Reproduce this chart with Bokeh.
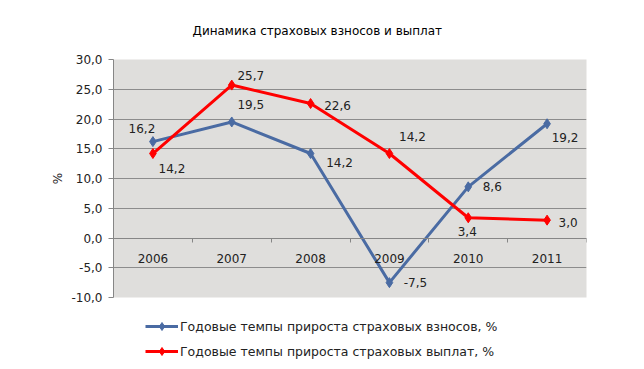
from bokeh.plotting import figure
from bokeh.layouts import column
from bokeh.models import FixedTicker, Legend, LegendItem, ColumnDataSource, Range1d
from bokeh.core.properties import value
from bokeh.embed import file_html
from bokeh.resources import INLINE

# ---- data ----
years = ["2006", "2007", "2008", "2009", "2010", "2011"]
premiums = [16.2, 19.5, 14.2, -7.5, 8.6, 19.2]
payouts = [14.2, 25.7, 22.6, 14.2, 3.4, 3.0]
y_ticks = [-10, -5, 0, 5, 10, 15, 20, 25, 30]
title_text = "Динамика страховых взносов и выплат"
series_names = ["Годовые темпы прироста страховых взносов, %",
                "Годовые темпы прироста страховых выплат, %"]
y_label = "%"

# label placement (pixels) for the data labels
blue_dx = [-11, 19, 29, 26, 24, 18]
blue_dy = [-13, -17, 9, 0, 0, 14]
red_dx = [19, 19, 27, 23, -1, 21]
red_dy = [15, -10, 2, -17, 14, 2]

BLUE = "#4a6ba3"
RED = "#ff0000"
GRID = "#8c8c8c"
AXIS = "#868686"
TXT = "#222222"
FONT = "DejaVu Sans"


def fmt(v):
    return f"{v:.1f}".replace(".", ",")


xs = [i + 0.5 for i in range(len(years))]

p = figure(width=644, height=316,
           x_range=Range1d(0, len(years)), y_range=Range1d(-10, 30),
           output_backend="svg", toolbar_location=None,
           min_border_left=113, min_border_right=58,
           min_border_top=59, min_border_bottom=19)
p.background_fill_color = "#dfdedc"
p.border_fill_color = "white"
p.outline_line_color = None

p.title.text = title_text
p.title.align = "left"
p.title.offset = 79
p.title.standoff = 43
p.title.text_font = FONT
p.title.text_font_size = "12px"
p.title.text_font_style = "normal"
p.title.text_color = "black"

# grid
p.xgrid.visible = False
p.ygrid.ticker = FixedTicker(ticks=y_ticks)
p.ygrid.grid_line_color = GRID
p.ygrid.grid_line_width = 1

# y axis
ya = p.yaxis[0]
ya.ticker = FixedTicker(ticks=y_ticks)
ya.major_label_overrides = {t: fmt(t) for t in y_ticks}
ya.major_label_text_font = FONT
ya.major_label_text_font_size = "12px"
ya.major_label_text_color = TXT
ya.major_tick_out = 5
ya.major_tick_in = 0
ya.minor_tick_line_color = None
ya.axis_line_color = AXIS
ya.major_tick_line_color = AXIS
ya.major_label_standoff = 6
ya.axis_label = y_label
ya.axis_label_text_font = FONT
ya.axis_label_text_font_size = "12px"
ya.axis_label_text_font_style = "normal"
ya.axis_label_text_color = TXT
ya.axis_label_standoff = 3

# x axis (crossing at zero)
xa = p.xaxis[0]
xa.ticker = FixedTicker(ticks=xs, minor_ticks=list(range(0, len(years) + 1)))
xa.major_label_overrides = {x: y for x, y in zip(xs, years)}
xa.fixed_location = 0
xa.major_tick_line_color = None
xa.major_tick_out = 0
xa.major_tick_in = 0
xa.minor_tick_out = 4
xa.minor_tick_in = 0
xa.minor_tick_line_color = AXIS
xa.axis_line_color = AXIS
xa.major_label_standoff = 12
xa.major_label_text_font = FONT
xa.major_label_text_font_size = "12px"
xa.major_label_text_color = TXT

# series
p.line(xs, premiums, line_color=BLUE, line_width=3)
p.scatter(xs, premiums, marker="diamond", size=10, fill_color=BLUE, line_color=BLUE)
p.line(xs, payouts, line_color=RED, line_width=3)
p.scatter(xs, payouts, marker="diamond", size=10, fill_color=RED, line_color=RED)

# data labels
src_b = ColumnDataSource(dict(x=xs, y=premiums, t=[fmt(v) for v in premiums], dx=blue_dx, dy=blue_dy))
src_r = ColumnDataSource(dict(x=xs, y=payouts, t=[fmt(v) for v in payouts], dx=red_dx, dy=red_dy))
for src in (src_b, src_r):
    p.text(x="x", y="y", text="t", x_offset="dx", y_offset="dy", source=src,
           text_font=value(FONT), text_font_size="12px",
           text_color=TXT, text_align="center", text_baseline="middle")

# legend in its own strip below the chart (series drawn out of view there,
# only their legend swatches are visible)
p2 = figure(width=644, height=53, x_range=Range1d(-20, -10), y_range=Range1d(0, 1),
            output_backend="svg", toolbar_location=None, min_border=0,
            x_axis_location=None, y_axis_location=None)
p2.grid.visible = False
p2.outline_line_color = None
p2.background_fill_color = "white"
p2.border_fill_color = "white"
lb = p2.line(xs, premiums, line_color=BLUE, line_width=3)
sb = p2.scatter(xs, premiums, marker="diamond", size=9, fill_color=BLUE, line_color=BLUE)
lr = p2.line(xs, payouts, line_color=RED, line_width=3)
sr = p2.scatter(xs, payouts, marker="diamond", size=9, fill_color=RED, line_color=RED)

legend = Legend(items=[LegendItem(label=series_names[0], renderers=[lb, sb]),
                       LegendItem(label=series_names[1], renderers=[lr, sr])],
                location=(32, 8), orientation="vertical",
                glyph_width=33, glyph_height=20, label_height=20, spacing=5,
                padding=0, margin=0, label_standoff=2,
                label_text_font=FONT, label_text_font_size="12.5px",
                label_text_color=TXT,
                border_line_color=None, background_fill_alpha=0)
p2.add_layout(legend)

open("out.html", "w").write(file_html(column(p, p2, spacing=0), INLINE))
